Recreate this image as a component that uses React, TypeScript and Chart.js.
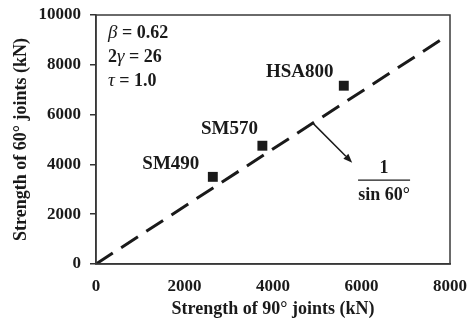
import React, { useEffect, useRef } from "react";
import { Chart, registerables } from "chart.js";

Chart.register(...registerables);

const pointNames = ["SM490", "SM570", "HSA800"];
const strength90 = [2640, 3760, 5600];
const strength60 = [3500, 4750, 7160];
const lineX = [0, 7850];
const lineY = [0, 9065];
const xTicks = [0, 2000, 4000, 6000, 8000];
const yTicks = [0, 2000, 4000, 6000, 8000, 10000];
const paramSymbols = [
  [{ t: "β", i: true }],
  [{ t: "2", i: false }, { t: "γ", i: true }],
  [{ t: "τ", i: true }],
];
const paramValues = ["0.62", "26", "1.0"];
const arrowFrom = [4900, 5658];
const arrowTo = [5790, 4068];
const fractionAt = [6510, 3370];
const fractionTop = "1";
const fractionBottom = "sin 60°";

const FONT = "'Liberation Serif', 'Times New Roman', serif";
const INK = "#1a1a1a";

const labelOffsets = [
  [-42, -13],
  [-33, -17],
  [-44, -14],
];

const annotate = {
  id: "annotate",
  afterDraw(chart: any) {
    const { ctx, chartArea, scales } = chart;
    const xs = scales.x;
    const ys = scales.y;
    ctx.save();
    // frame
    ctx.strokeStyle = "#3a3a3a";
    ctx.lineWidth = 1.5;
    ctx.strokeRect(chartArea.left, chartArea.top, chartArea.right - chartArea.left, chartArea.bottom - chartArea.top);

    ctx.fillStyle = INK;
    // point labels
    ctx.font = `bold 19px ${FONT}`;
    ctx.textAlign = "center";
    ctx.textBaseline = "middle";
    pointNames.forEach((n, k) => {
      const px = xs.getPixelForValue(strength90[k]);
      const py = ys.getPixelForValue(strength60[k]);
      ctx.fillText(n, px + labelOffsets[k][0], py + labelOffsets[k][1]);
    });

    // parameters
    ctx.textAlign = "left";
    paramSymbols.forEach((parts, k) => {
      let x = chartArea.left + 12;
      const y = ys.top + 18 + k * 24.2;
      parts.forEach((p) => {
        ctx.font = p.i ? `italic 19px ${FONT}` : `bold 18px ${FONT}`;
        ctx.fillText(p.t, x, y);
        x += ctx.measureText(p.t).width;
      });
      ctx.font = `bold 18px ${FONT}`;
      ctx.fillText(" = " + paramValues[k], x, y);
    });

    // arrow
    const ax0 = xs.getPixelForValue(arrowFrom[0]);
    const ay0 = ys.getPixelForValue(arrowFrom[1]);
    const ax1 = xs.getPixelForValue(arrowTo[0]);
    const ay1 = ys.getPixelForValue(arrowTo[1]);
    const ang = Math.atan2(ay1 - ay0, ax1 - ax0);
    const hl = 9;
    const hw = 3.5;
    const bx = ax1 - hl * Math.cos(ang);
    const by = ay1 - hl * Math.sin(ang);
    ctx.strokeStyle = INK;
    ctx.lineWidth = 1.5;
    ctx.beginPath();
    ctx.moveTo(ax0, ay0);
    ctx.lineTo(bx, by);
    ctx.stroke();
    ctx.beginPath();
    ctx.moveTo(ax1, ay1);
    ctx.lineTo(bx + hw * Math.sin(ang), by - hw * Math.cos(ang));
    ctx.lineTo(bx - hw * Math.sin(ang), by + hw * Math.cos(ang));
    ctx.closePath();
    ctx.fill();

    // fraction
    const fx = xs.getPixelForValue(fractionAt[0]);
    const fy = ys.getPixelForValue(fractionAt[1]);
    ctx.textAlign = "center";
    ctx.font = `bold 18px ${FONT}`;
    ctx.fillText(fractionTop, fx, fy - 12);
    ctx.fillText(fractionBottom, fx, fy + 15);
    ctx.lineWidth = 1.2;
    ctx.beginPath();
    ctx.moveTo(fx - 26, fy);
    ctx.lineTo(fx + 26, fy);
    ctx.stroke();
    ctx.restore();
  },
};

export default function App() {
  const ref = useRef<HTMLCanvasElement>(null);
  useEffect(() => {
    document.body.style.margin = "0";
    const chart = new Chart(ref.current as HTMLCanvasElement, {
      type: "scatter",
      data: {
        datasets: [
          {
            type: "line",
            data: lineX.map((x, i) => ({ x, y: lineY[i] })),
            borderColor: INK,
            borderWidth: 3,
            borderDash: [20, 10],
            pointRadius: 0,
            fill: false,
          } as any,
          {
            data: strength90.map((x, i) => ({ x, y: strength60[i] })),
            pointStyle: "rect",
            pointRadius: 7,
            backgroundColor: INK,
            borderWidth: 0,
          },
        ],
      },
      options: {
        responsive: false,
        animation: false,
        layout: { padding: { top: 15, right: 24, left: 0, bottom: 0 } },
        plugins: { legend: { display: false }, tooltip: { enabled: false } },
        scales: {
          x: {
            type: "linear",
            min: 0,
            max: 8000,
            afterFit: (s: any) => {
              s.height = 59;
            },
            afterBuildTicks: (s: any) => {
              s.ticks = xTicks.map((v) => ({ value: v }));
            },
            grid: { display: false },
            border: { display: true, color: "#333", width: 1.5 },
            ticks: {
              color: INK,
              padding: 4,
              callback: (v: any) => String(v),
              font: { family: FONT, size: 17, weight: "bold" },
            },
            title: {
              display: true,
              text: "Strength of 90° joints (kN)",
              color: INK,
              padding: { top: 0, bottom: 3 },
              font: { family: FONT, size: 18, weight: "bold" },
            },
          },
          y: {
            type: "linear",
            min: 0,
            max: 10000,
            afterFit: (s: any) => {
              s.width = 96;
              s.paddingTop = 0;
              s.paddingBottom = 0;
            },
            afterBuildTicks: (s: any) => {
              s.ticks = yTicks.map((v) => ({ value: v }));
            },
            grid: { display: true, drawOnChartArea: false, drawTicks: true, tickLength: 6, color: "#333", lineWidth: 1.5 },
            border: { display: true, color: "#333", width: 1.5 },
            ticks: {
              color: INK,
              padding: 9,
              callback: (v: any) => String(v),
              font: { family: FONT, size: 17, weight: "bold", lineHeight: 1 },
            },
            title: {
              display: true,
              text: "Strength of 60° joints (kN)",
              color: INK,
              padding: { top: 11, bottom: 0 },
              font: { family: FONT, size: 18, weight: "bold" },
            },
          },
        },
      },
      plugins: [annotate],
    });
    return () => chart.destroy();
  }, []);
  return (
    <div style={{ width: 474, height: 323 }}>
      <canvas ref={ref} width={474} height={323} />
    </div>
  );
}
